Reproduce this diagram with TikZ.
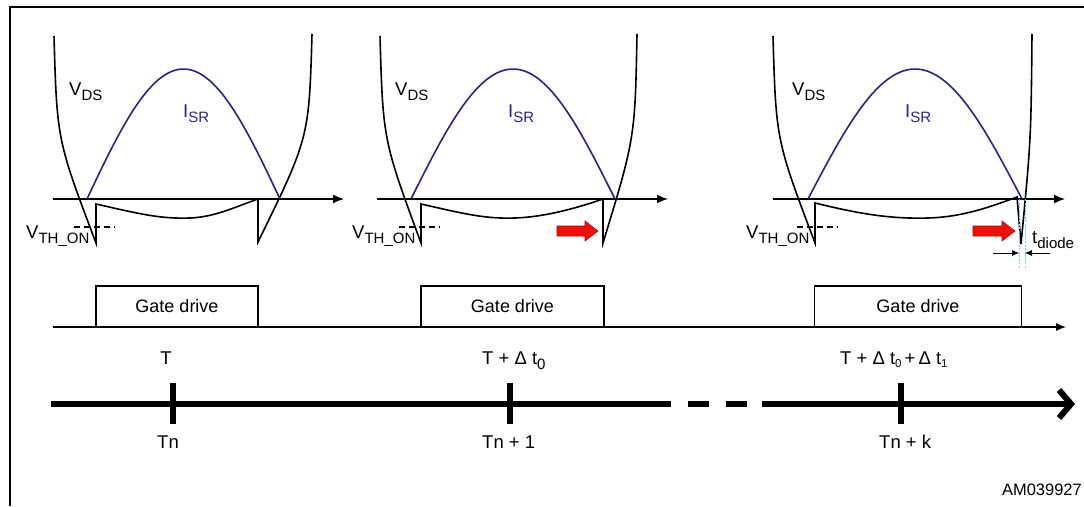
\documentclass[tikz,border=0pt]{standalone}
\usepackage{fontspec}
\setmainfont{Liberation Sans}
\usetikzlibrary{arrows.meta}
\definecolor{figI}{RGB}{36,36,140}
\definecolor{figR}{RGB}{240,16,10}
\definecolor{figL}{RGB}{130,195,235}
\newcommand{\lsub}[1]{\raisebox{-0.55ex}{\fontsize{15}{15}\selectfont #1}}
\newcommand{\ssub}[1]{\raisebox{-0.35ex}{\fontsize{11.5}{11.5}\selectfont #1}}

\begin{document}
\begin{tikzpicture}[x=1pt,y=-1pt,>={Latex[length=11pt,width=9pt]},
  lbl/.style={font=\fontsize{18.5}{21}\selectfont,inner sep=0pt},
  wave/.style={line width=1.6pt},
  gatebox/.style={draw,line width=1.3pt,fill=white,minimum height=41pt,font=\fontsize{18}{21}\selectfont},
  tick/.style={line width=6pt},
  redarr/.style={fill=figR,draw=figR!70!black,line width=0.6pt}]
\useasboundingbox (0,0) rectangle (1084,506);
\draw[line width=2pt] (10,506) -- (10,7) -- (1084,7);
% axes of the three waveforms
\foreach \xa/\xb in {53/344,377/668,773/1065}
  \draw[->,line width=1.5pt] (\xa,199) -- (\xb,199);
% V_DS with gate drive
\draw[wave] (54,36) .. controls (57,140) .. (96,243) -- (96,204)
  .. controls (140,214) and (160,219) .. (190,218) .. controls (215,217) and (235,207) .. (258,199)
  -- (258,242) .. controls (309,138) .. (312,34);
\draw[wave] (380,36) .. controls (383,140) .. (421,243) -- (421,204)
  .. controls (465,214) and (485,219) .. (515,218) .. controls (545,217) and (577,208) .. (603,199)
  -- (603,243) .. controls (635,138) .. (637,34);
\draw[wave] (773,36) .. controls (776,140) .. (815,243) -- (815,203)
  .. controls (860,214) and (890,219) .. (928,218) .. controls (965,217) and (995,205) .. (1017,197)
  -- (1021,244) .. controls (1031,140) .. (1032,34);
% I_SR
\draw[wave,figI] plot[domain=0:180,samples=60,variable=\a] ({87+1.0722*\a},{199-130*sin(\a)});
\draw[wave,figI] plot[domain=0:180,samples=60,variable=\a] ({411+1.1333*\a},{199-130*sin(\a)});
\draw[wave,figI] plot[domain=0:180,samples=60,variable=\a] ({808+1.1889*\a},{199-130*sin(\a)});
% threshold
\foreach \xa in {74,399,797}
  \draw[line width=1.1pt,dash pattern=on 6pt off 4pt] (\xa,227) -- ++(41,0);
\node[lbl,anchor=base west] (vds1) at (69,95) {V\lsub{DS}};
\node[lbl,anchor=base west] (vds2) at (395,95) {V\lsub{DS}};
\node[lbl,anchor=base west] (vds3) at (792,95) {V\lsub{DS}};
\node[lbl,anchor=base west,text=figI] (isr1) at (183,117) {I\lsub{SR}};
\node[lbl,anchor=base west,text=figI] (isr2) at (508,117) {I\lsub{SR}};
\node[lbl,anchor=base west,text=figI] (isr3) at (905,117) {I\lsub{SR}};
\node[lbl,anchor=base west] (vth1) at (26,238) {V\lsub{TH\_ON}};
\node[lbl,anchor=base west] (vth2) at (352,238) {V\lsub{TH\_ON}};
\node[lbl,anchor=base west] (vth3) at (746,238) {V\lsub{TH\_ON}};
% red arrows
\draw[redarr] (557,226) -- (585,226) -- (585,221) -- (598,231) -- (585,241) -- (585,236) -- (557,236) -- cycle;
\draw[redarr] (973,226) -- (1002,226) -- (1002,221) -- (1015,231) -- (1002,241) -- (1002,236) -- (973,236) -- cycle;
% t_diode
\coordinate (dl) at (1019,199); \coordinate (dr) at (1025,199);
\draw[figL,line width=0.8pt,dash pattern=on 2pt off 1.5pt] (dl) -- ++(0,69);
\draw[figL,line width=0.8pt,dash pattern=on 2pt off 1.5pt] (dr) -- ++(0,69);
\coordinate (dla) at (1019,253); \coordinate (dra) at (1025,253);
\draw[-{Latex[length=7pt,width=6pt]},line width=0.7pt] (993,253) -- (dla);
\draw[-{Latex[length=7pt,width=6pt]},line width=0.7pt] (1050,253) -- (dra);
\node[lbl,anchor=base west] (tdio) at (1032,243) {t\lsub{diode}};
% gate drive
\draw[line width=1.3pt,-{Latex[length=10pt,width=8pt]}] (53,327) -- (1066,327);
\node[gatebox,minimum width=162pt] (g1) at (177,306.5) {Gate drive};
\node[gatebox,minimum width=183pt] (g2) at (512.5,306.5) {Gate drive};
\node[gatebox,minimum width=207pt] (g3) at (918,306.5) {Gate drive};
% time line
\node[lbl,anchor=base] (t1) at (166,364) {T};
\node[lbl,anchor=base west] (t2) at (482,364) {T + Δ t\lsub{0}};
\node[lbl,anchor=base west] (t3) at (840,364) {T + Δ t\ssub{0}\,+\,Δ t\ssub{1}};
\coordinate (tl0) at (51,404); \coordinate (tl1) at (671,404);
\coordinate (tl2) at (762,404); \coordinate (tl3) at (1075,404);
\draw[line width=6pt] (tl0) -- (tl1);
\draw[line width=6pt,dash pattern=on 21pt off 17pt] (688,404) -- (747,404);
\draw[line width=6pt,-{Straight Barb[length=12pt,width=28pt]}] (tl2) -- (tl3);
\foreach \xt in {173,510,901}
  \draw[tick] (\xt,383) -- (\xt,424);
\node[lbl,anchor=base] (tn1) at (168,448) {Tn};
\node[lbl,anchor=base west] (tn2) at (482,448) {Tn + 1};
\node[lbl,anchor=base west] (tn3) at (879,448) {Tn + k};
\node[font=\fontsize{16.5}{19}\selectfont,inner sep=0pt,anchor=base east] (code) at (1082,495) {AM039927};
\end{tikzpicture}
\end{document}
